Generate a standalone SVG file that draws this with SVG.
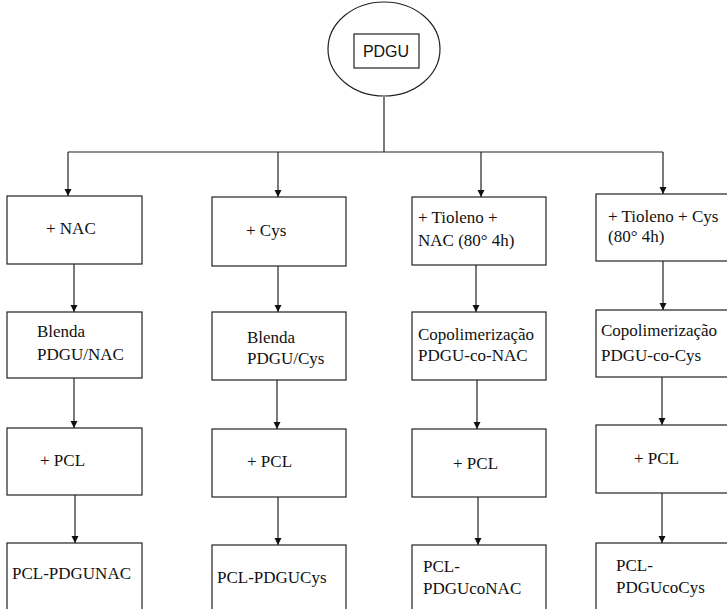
<svg xmlns="http://www.w3.org/2000/svg" width="727" height="609" viewBox="0 0 727 609" font-family="'Liberation Serif', 'Times New Roman', 'DejaVu Serif', serif">
<style>
.box{fill:#fff;stroke:#222;stroke-width:1.2}
.ln{fill:none;stroke:#222;stroke-width:1.2}
.t{font-size:17px;fill:#111}
.s{font-family:'Liberation Sans',Arial,sans-serif;font-size:16px;fill:#111}
</style>
<defs>
<marker id="ah" markerWidth="8" markerHeight="8" refX="7" refY="4" orient="auto" markerUnits="userSpaceOnUse">
<path d="M0,0.5 L7,4 L0,7.5 Z" fill="#111"/>
</marker>
</defs>
<rect width="727" height="609" fill="#fff"/>
<g id="connectors">
<path class="ln" d="M384,97 V152"/>
<path class="ln" d="M68,152 H663"/>
<path class="ln" d="M68,152 V196" marker-end="url(#ah)"/>
<path class="ln" d="M278,152 V197" marker-end="url(#ah)"/>
<path class="ln" d="M481,152 V197" marker-end="url(#ah)"/>
<path class="ln" d="M663,152 V194" marker-end="url(#ah)"/>
<path class="ln" d="M74,264 V312" marker-end="url(#ah)"/>
<path class="ln" d="M278,266 V312" marker-end="url(#ah)"/>
<path class="ln" d="M476,265 V312" marker-end="url(#ah)"/>
<path class="ln" d="M663,261 V310" marker-end="url(#ah)"/>
<path class="ln" d="M74,378 V428" marker-end="url(#ah)"/>
<path class="ln" d="M277,380 V429" marker-end="url(#ah)"/>
<path class="ln" d="M477,380 V429" marker-end="url(#ah)"/>
<path class="ln" d="M662,377 V425" marker-end="url(#ah)"/>
<path class="ln" d="M75,495 V543" marker-end="url(#ah)"/>
<path class="ln" d="M278,497 V545" marker-end="url(#ah)"/>
<path class="ln" d="M478,497 V545" marker-end="url(#ah)"/>
<path class="ln" d="M662,493 V543" marker-end="url(#ah)"/>
</g>
<g id="pdgu">
<ellipse class="box" cx="384" cy="49" rx="56" ry="47"/>
<rect class="box" x="354" y="34" width="65" height="34"/>
<text class="s" x="386" y="57" text-anchor="middle">PDGU</text>
</g>
<g id="nac1">
<rect class="box" x="7" y="196" width="135" height="68"/>
<text class="t" x="46" y="234">+ NAC</text>
</g>
<g id="cys1">
<rect class="box" x="212" y="197" width="134" height="69"/>
<text class="t" x="246" y="236">+ Cys</text>
</g>
<g id="tiol-nac">
<rect class="box" x="412" y="197" width="134" height="68"/>
<text class="t" x="418" y="223">+ Tioleno +</text>
<text class="t" x="418" y="246">NAC (80° 4h)</text>
</g>
<g id="tiol-cys">
<rect class="box" x="596" y="194" width="140" height="67"/>
<text class="t" x="608" y="222">+ Tioleno + Cys</text>
<text class="t" x="608" y="242">(80° 4h)</text>
</g>
<g id="blenda-nac">
<rect class="box" x="7" y="312" width="135" height="66"/>
<text class="t" x="37" y="337">Blenda</text>
<text class="t" x="37" y="360">PDGU/NAC</text>
</g>
<g id="blenda-cys">
<rect class="box" x="212" y="312" width="134" height="68"/>
<text class="t" x="247" y="343">Blenda</text>
<text class="t" x="247" y="364">PDGU/Cys</text>
</g>
<g id="copol-nac">
<rect class="box" x="412" y="312" width="134" height="68"/>
<text class="t" x="418" y="340">Copolimerização</text>
<text class="t" x="418" y="361">PDGU-co-NAC</text>
</g>
<g id="copol-cys">
<rect class="box" x="596" y="310" width="140" height="67"/>
<text class="t" x="601" y="336">Copolimerização</text>
<text class="t" x="601" y="361">PDGU-co-Cys</text>
</g>
<g id="pcl1">
<rect class="box" x="7" y="428" width="135" height="67"/>
<text class="t" x="40" y="466">+ PCL</text>
</g>
<g id="pcl2">
<rect class="box" x="212" y="429" width="134" height="68"/>
<text class="t" x="247" y="467">+ PCL</text>
</g>
<g id="pcl3">
<rect class="box" x="412" y="429" width="134" height="68"/>
<text class="t" x="453" y="469">+ PCL</text>
</g>
<g id="pcl4">
<rect class="box" x="596" y="425" width="140" height="68"/>
<text class="t" x="634" y="464">+ PCL</text>
</g>
<g id="pcl-pdgunac">
<rect class="box" x="7" y="543" width="135" height="80"/>
<text class="t" x="12" y="579">PCL-PDGUNAC</text>
</g>
<g id="pcl-pdgucys">
<rect class="box" x="212" y="545" width="134" height="80"/>
<text class="t" x="217" y="583">PCL-PDGUCys</text>
</g>
<g id="pcl-pdgu-co-nac">
<rect class="box" x="412" y="545" width="134" height="80"/>
<text class="t" x="423" y="572">PCL-</text>
<text class="t" x="423" y="594">PDGUcoNAC</text>
</g>
<g id="pcl-pdgu-co-cys">
<rect class="box" x="596" y="543" width="140" height="80"/>
<text class="t" x="616" y="571">PCL-</text>
<text class="t" x="616" y="593">PDGUcoCys</text>
</g>
</svg>
